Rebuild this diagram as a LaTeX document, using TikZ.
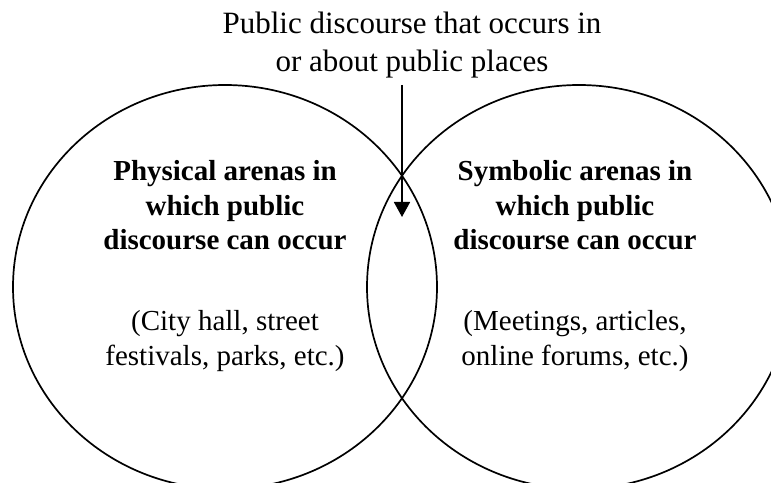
\documentclass[tikz,border=0pt]{standalone}
\usepackage{fontspec}
\setmainfont{Liberation Serif}
\usetikzlibrary{arrows.meta}

\begin{document}
\begin{tikzpicture}[x=1pt, y=1pt, line width=1.7pt,
  arena/.style={align=center, inner sep=0pt, anchor=north,
    font=\fontsize{29}{34.5}\selectfont\bfseries},
  examples/.style={align=center, inner sep=0pt, anchor=north,
    font=\fontsize{29}{35}\selectfont}]

  \useasboundingbox (0,0) rectangle (771,482);

  % the two arenas; both run off the bottom and the right one off the side
  \begin{scope}
    \clip (0,0) rectangle (771,482);
    \draw (225,195) ellipse [x radius=212, y radius=202];
    \draw (579,195) ellipse [x radius=212, y radius=202];
  \end{scope}

  \node[align=center, inner sep=0pt, anchor=north,
    font=\fontsize{31}{38}\selectfont] (overlap) at (412,471)
    {Public discourse that occurs in\\or about public places};
  \coordinate (tip) at (402,265);
  \draw[-{Triangle[length=15pt, width=16pt]}, shorten <=6pt]
    (tip |- overlap.south) -- (tip);

  \node[arena] (physical) at (225,322)
    {Physical arenas in\\which public\\discourse can occur};
  \node[examples] (physicalex) at (225,172)
    {(City hall, street\\festivals, parks, etc.)};

  \node[arena] (symbolic) at (575,322)
    {Symbolic arenas in\\which public\\discourse can occur};
  \node[examples] (symbolicex) at (575,172)
    {(Meetings, articles,\\online forums, etc.)};

\end{tikzpicture}
\end{document}
